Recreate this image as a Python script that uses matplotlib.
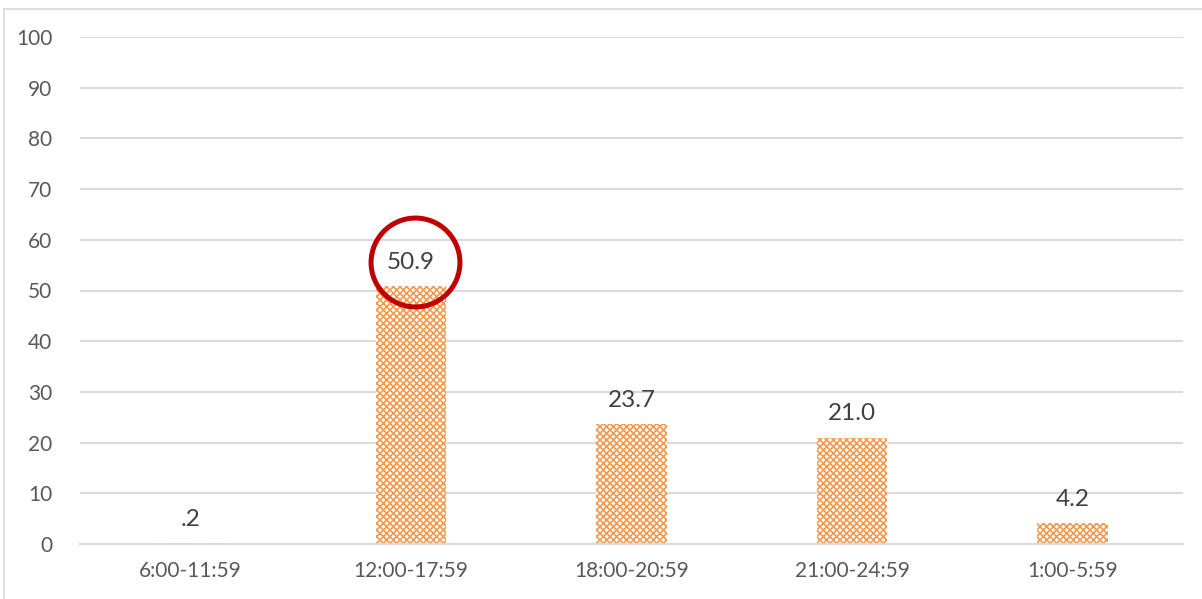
import matplotlib.pyplot as plt
from matplotlib.patches import Rectangle
import matplotlib as mpl

mpl.rcParams['hatch.linewidth'] = 1.2
plt.rcParams['font.family'] = ['Lato', 'DejaVu Sans']

periods = ['6:00-11:59', '12:00-17:59', '18:00-20:59', '21:00-24:59', '1:00-5:59']
shares = [0.2, 50.9, 23.7, 21.0, 4.2]
labels = ['.2', '50.9', '23.7', '21.0', '4.2']

orange = '#F59A4E'
grid_c = '#D9D9D9'

fig = plt.figure(figsize=(12.02, 5.99), dpi=100)
ax = fig.add_axes([80 / 1202, 1 - 544 / 599, 1103 / 1202, 507 / 599])

x = range(len(periods))
ax.bar(x, shares, width=0.32, color='white', edgecolor=orange, hatch='xxxxx',
       linewidth=0, zorder=2)

for i, (v, t) in enumerate(zip(shares, labels)):
    ax.text(i, v + 2.6, t, ha='center', va='bottom', fontsize=17.5, color='#404040')

# highlight circle on the tallest bar
ax.plot(1.02, 55.6, marker='o', ms=64, mfc='none', mec='#C00000', mew=3.6,
        zorder=4, clip_on=False)

ax.set_xlim(-0.5, 4.5)
ax.set_ylim(0, 100)
ax.set_yticks(range(0, 101, 10))
ax.set_xticks(list(x))
ax.set_xticklabels(periods)
ax.grid(axis='y', color=grid_c, linewidth=1.4, zorder=0)
ax.set_axisbelow(True)
for s in ['top', 'right', 'left']:
    ax.spines[s].set_visible(False)
ax.spines['bottom'].set_color(grid_c)
ax.spines['bottom'].set_linewidth(1.4)
ax.tick_params(length=0, labelsize=15, colors='#595959')
ax.tick_params(axis='x', pad=12)
ax.tick_params(axis='y', pad=20)

# chart frame
fig.patches.append(Rectangle((4 / 1202, -0.01), 1.02, 1 - 9 / 599 + 0.01,
                             transform=fig.transFigure, fill=False,
                             edgecolor='#D9D9D9', linewidth=1.2))

fig.savefig('out.png', dpi=100)
